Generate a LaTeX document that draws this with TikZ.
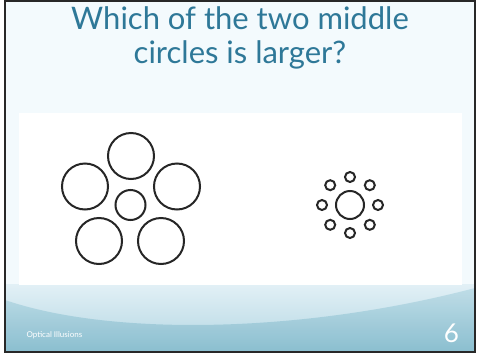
\documentclass[tikz,border=0pt]{standalone}
\usepackage{fontspec}
\setmainfont{Lato}
\usetikzlibrary{positioning}
\definecolor{TitleTeal}{RGB}{46,120,152}
\definecolor{SlideBack}{RGB}{243,250,253}
\definecolor{WaveLight}{RGB}{226,240,246}
\definecolor{WaveMid}{RGB}{178,214,226}
\definecolor{WaveDark}{RGB}{122,181,200}
\definecolor{FrameGray}{RGB}{40,40,40}

\begin{document}
\begin{tikzpicture}[
    x=1pt,y=-1pt,
    ring/.style={circle,draw=black!85,line width=2pt,inner sep=0pt,minimum size=#1},
    title/.style={text=TitleTeal,font=\fontsize{31}{36}\selectfont,anchor=base},
    footer/.style={text=white,anchor=base west,font=\fontsize{8}{9}\selectfont}
]
\useasboundingbox (0,0) rectangle (480,354);

% Slide background
\fill[white] (0,0) rectangle (480,354);
\fill[SlideBack] (5,1) rectangle (475,352);
\shade[top color=WaveLight,bottom color=WaveMid] (5,284) rectangle (475,352);
\shade[top color=WaveMid,bottom color=WaveDark,opacity=0.7]
    (5,300) .. controls (110,336) and (300,334) .. (475,288) -- (475,352) -- (5,352) -- cycle;
\draw[FrameGray,line width=1.2pt] (5,1) rectangle (475,352);

% Picture area
\fill[white] (19,113) rectangle (462,285);

% Title
\node[title] (title1) at (240,29) {Which of the two middle};
\node[title] (title2) at (240,63) {circles is larger?};

% Left figure
\node[ring=30pt] (coreL) at (130.5,205) {};
\node[ring=46pt] (petalT) at (131,156) {};
\node[ring=46pt] (petalL) at (85,186.5) {};
\node[ring=46pt] (petalR) at (177,186.5) {};
\node[ring=46pt] (petalBL) at (99,241) {};
\node[ring=46pt] (petalBR) at (161,241) {};

% Right figure
\node[ring=28pt] (coreR) at (350,205) {};
\foreach \ang [count=\i] in {0,45,...,315}
    \node[ring=10pt] (dot\i) at ([shift={(350,205)}]\ang:28) {};

% Footer
\node[footer] (foot) at (23,337) {Optical Illusions};
\node[text=white,font=\fontsize{26}{30}\selectfont,anchor=base] (pagenum) at (451.5,342) {6};
\end{tikzpicture}
\end{document}
